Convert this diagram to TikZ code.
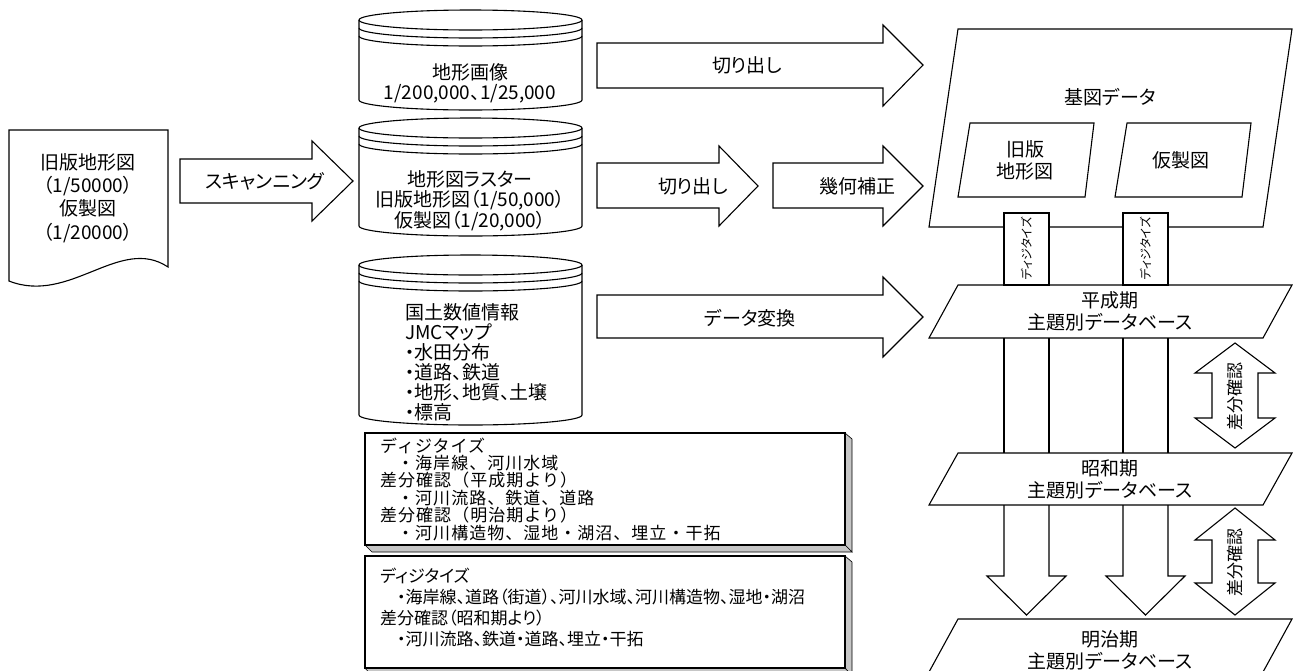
\documentclass[tikz,border=0pt]{standalone}
\usepackage{fontspec}
\setmainfont{Noto Sans CJK JP}[RawFeature=+palt]
\newfontfamily\jpprop{Noto Sans CJK JP}[RawFeature=+palt]
\newfontfamily\jpwide{Noto Sans CJK JP}[LetterSpace=6]
\newcommand\drum[5]{%
  \pgfmathsetmacro\dcx{(#1+#2)/2}%
  \pgfmathsetmacro\drx{(#2-#1)/2}%
  \pgfmathsetmacro\dk{0.5523*\drx}%
  \pgfmathsetmacro\dya{#3+10}%
  \pgfmathsetmacro\dyb{#4}%
  \draw[ln] (#1,\dya) -- (#1,\dyb) .. controls (#1,\dyb+5.5) and (\dcx-\dk,\dyb+10) .. (\dcx,\dyb+10) .. controls (\dcx+\dk,\dyb+10) and (#2,\dyb+5.5) .. (#2,\dyb) -- (#2,\dya);
  \draw[ln] (\dcx,\dya) ellipse [x radius=\drx, y radius=10];
  \foreach \dd in {8,16} {
    \draw[ln] (#1,\dya+\dd) .. controls (#1,\dya+\dd+5.5) and (\dcx-\dk,\dya+\dd+10) .. (\dcx,\dya+\dd+10) .. controls (\dcx+\dk,\dya+\dd+10) and (#2,\dya+\dd+5.5) .. (#2,\dya+\dd);
  }
  \coordinate (#5) at (\dcx,\dyb);
}
\begin{document}
\begin{tikzpicture}[x=1pt,y=-1pt,
  ln/.style={draw=black,line width=1.1pt,line join=miter},
  txt/.style={font=\fontsize{19}{22}\selectfont,align=center,inner sep=0pt},
  vtxt/.style={font=\fontsize{12}{12}\selectfont,rotate=90,inner sep=0pt},
  difftxt/.style={font=\fontsize{17}{17}\selectfont,rotate=90,inner sep=0pt},
  shadowfill/.style={fill=gray!45,draw=black,line width=0.6pt}]
\useasboundingbox (0,0) rectangle (1300,670);

% source document
\draw[ln] (9,130) -- (168,130) -- (168,267) .. controls (120,235) and (70,305) .. (9,281) -- cycle;
\node[txt,font=\fontsize{19}{23.3}\selectfont] (doc) at (88,198) {旧版地形図\\（1/50000）\\仮製図\\（1/20000）};

% scanning arrow
\draw[ln] (180,159) -- (312,159) -- (312,141) -- (353,181) -- (312,221) -- (312,203) -- (180,203) -- cycle;
\node[txt] (scan) at (265,181) {スキャンニング};

% cylinders
\drum{359}{582}{10}{100}{cylA}
\drum{359}{582}{118}{226}{cylB}
\drum{359}{582}{255}{415}{cylC}
\node[txt,font=\fontsize{19}{20}\selectfont] (cylAt) at (470,83) {地形画像\\1/200,000、1/25,000};
\node[txt,font=\fontsize{19}{19.5}\selectfont] (cylBt) at (470,201) {地形図ラスター\\旧版地形図（1/50,000）\\仮製図（1/20,000）};
\node[txt,font=\fontsize{19}{20}\selectfont,align=left,anchor=west] (cylCt) at (405,362) {国土数値情報\\JMCマップ\\・水田分布\\・道路、鉄道\\・地形、地質、土壌\\・標高};

% horizontal block arrows
\draw[ln] (597,43) -- (883,43) -- (883,25) -- (923,65) -- (883,106) -- (883,88) -- (597,88) -- cycle;
\node[txt] (cut1) at (747,65) {切り出し};
\draw[ln] (597,163) -- (719,163) -- (719,146) -- (758,186) -- (719,226) -- (719,208) -- (597,208) -- cycle;
\node[txt] (cut2) at (693,186) {切り出し};
\draw[ln] (773,163) -- (883,163) -- (883,146) -- (923,186) -- (883,226) -- (883,208) -- (773,208) -- cycle;
\node[txt] (geo) at (857,186) {幾何補正};
\draw[ln] (597,295) -- (883,295) -- (883,277) -- (923,317) -- (883,357) -- (883,338) -- (597,338) -- cycle;
\node[txt] (conv) at (750,318) {データ変換};

% base map data
\draw[ln] (958,29) -- (1292,29) -- (1263,227) -- (929,227) -- cycle;
\node[txt] (kizu) at (1110,97) {基図データ};
\draw[ln] (970,123) -- (1094,123) -- (1085,197) -- (958,197) -- cycle;
\node[txt] (kyu) at (1025,160) {旧版\\地形図};
\draw[ln] (1127,123) -- (1251,123) -- (1242,197) -- (1115,197) -- cycle;
\node[txt] (kasei) at (1181,160) {仮製図};

% digitize columns
\draw[ln,fill=white] (1004,213) rectangle (1049,285);
\draw[ln,fill=white] (1123,213) rectangle (1168,285);
\node[vtxt] (dg1) at (1026.5,249) {ディジタイズ};
\node[vtxt] (dg2) at (1145.5,249) {ディジタイズ};

% Heisei
\draw[ln] (958,285) -- (1292,285) -- (1263,338) -- (929,338) -- cycle;
\node[txt] (heisei) at (1110,311) {平成期\\主題別データベース};
\foreach \xx in {1004,1049,1123,1168} { \draw[ln] (\xx,338) -- (\xx,453); }

% Showa
\draw[ln] (958,453) -- (1292,453) -- (1263,505) -- (929,505) -- cycle;
\node[txt] (showa) at (1110,479) {昭和期\\主題別データベース};

% down arrows
\draw[ln] (1004,505) -- (1004,576) -- (987,576) -- (1026.5,615) -- (1066,576) -- (1049,576) -- (1049,505);
\draw[ln] (1123,505) -- (1123,576) -- (1106,576) -- (1145.5,615) -- (1185,576) -- (1168,576) -- (1168,505);

% Meiji
\draw[ln] (958,619) -- (1292,619) -- (1263,672) -- (929,672) -- cycle;
\node[txt] (meiji) at (1110,650) {明治期\\主題別データベース};

% difference check double arrows
\draw[ln] (1235,343) -- (1275,373) -- (1258,373) -- (1258,418) -- (1275,418) -- (1235,448) -- (1195,418) -- (1212,418) -- (1212,373) -- (1195,373) -- cycle;
\node[difftxt] (diff1) at (1235,396) {差分確認};
\draw[ln] (1235,508) -- (1275,540) -- (1258,540) -- (1258,583) -- (1275,583) -- (1235,615) -- (1195,583) -- (1212,583) -- (1212,540) -- (1195,540) -- cycle;
\node[difftxt] (diff2) at (1235,562) {差分確認};

% lower boxes with shadow
\draw[shadowfill] (845,433) -- (852,439) -- (852,552) -- (845,545) -- cycle;
\draw[shadowfill] (365,545) -- (845,545) -- (852,552) -- (372,552) -- cycle;
\draw[ln,fill=white] (365,433) rectangle (845,545);
\node[font=\jpwide\fontsize{17}{17.4}\selectfont,align=left,anchor=west,inner sep=0pt] (boxA) at (380,489) {ディジタイズ\\\hspace*{17pt}・海岸線、河川水域\\差分確認（平成期より）\\\hspace*{17pt}・河川流路、鉄道、道路\\差分確認（明治期より）\\\hspace*{17pt}・河川構造物、湿地・湖沼、埋立・干拓};

\draw[shadowfill] (845,556) -- (852,562) -- (852,676) -- (845,668) -- cycle;
\draw[shadowfill] (365,668) -- (845,668) -- (852,676) -- (372,676) -- cycle;
\draw[ln,fill=white] (365,556) rectangle (845,668);
\node[font=\jpprop\fontsize{17}{21}\selectfont,align=left,anchor=west,inner sep=0pt] (boxB) at (380,607) {ディジタイズ\\\hspace*{17pt}・海岸線、道路（街道）、河川水域、河川構造物、湿地・湖沼\\差分確認（昭和期より）\\\hspace*{17pt}・河川流路、鉄道・道路、埋立・干拓};
\end{tikzpicture}
\end{document}
